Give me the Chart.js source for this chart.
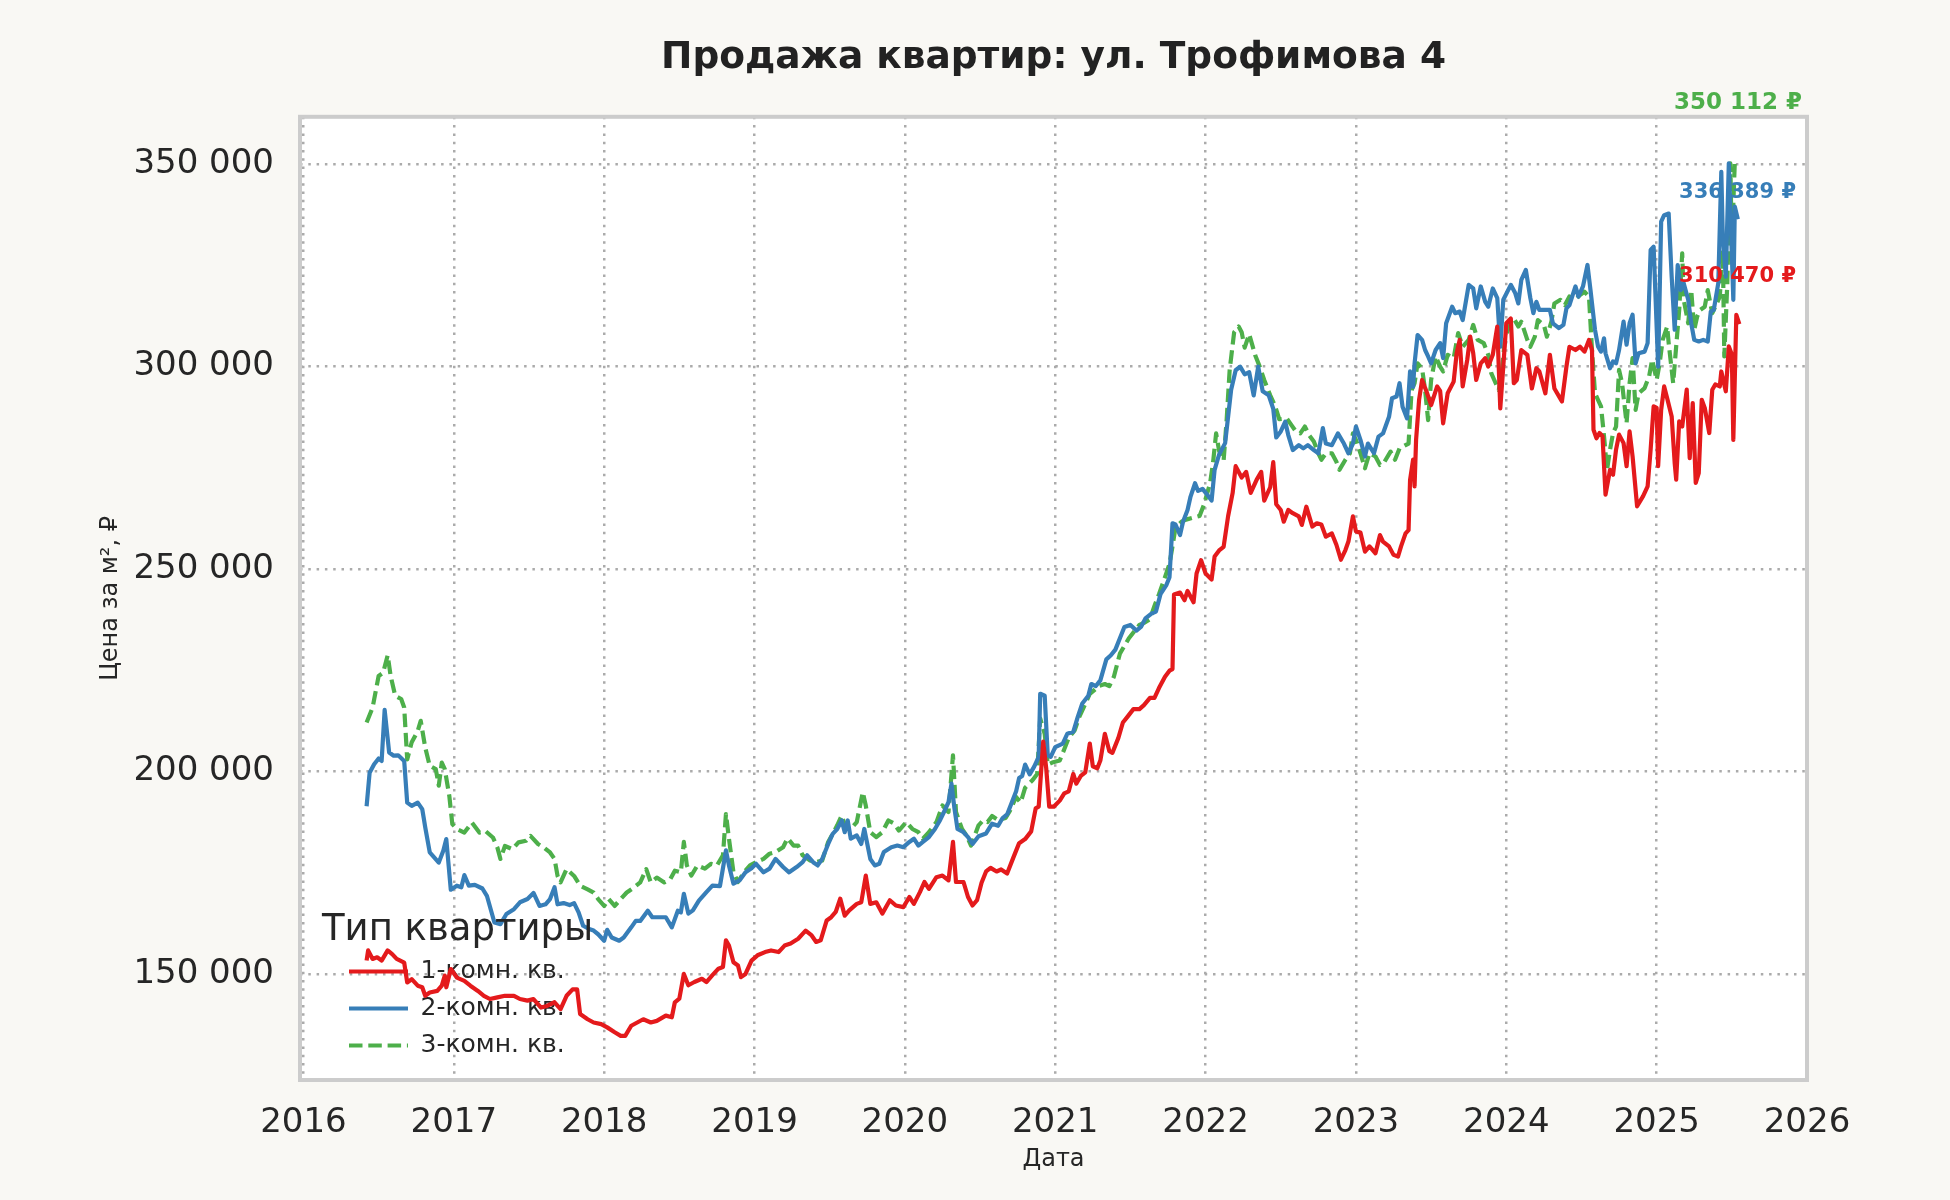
<!DOCTYPE html>
<html lang="ru">
<head>
<meta charset="utf-8">
<title>Продажа квартир: ул. Трофимова 4</title>
<script src="https://cdn.jsdelivr.net/npm/chart.js"></script>
<style>
  html, body { margin: 0; padding: 0; background: #f9f8f4; }
  #pricechart { display: block; }
</style>
</head>
<body>
<canvas id="pricechart" width="1950" height="1200"></canvas>
<script>
// ==========================================
// Data (decimal year -> price per m2, RUB)
// ==========================================
const yearTicks = [2016, 2017, 2018, 2019, 2020, 2021, 2022, 2023, 2024, 2025, 2026];
const priceTicks = [150000, 200000, 250000, 300000, 350000];
const seriesNames = ['1-комн. кв.', '2-комн. кв.', '3-комн. кв.'];

const oneRoomDates = [
  2016.42, 2016.43, 2016.46, 2016.49, 2016.52, 2016.56, 2016.59, 2016.62, 2016.67, 2016.69,
  2016.72, 2016.76, 2016.79, 2016.81, 2016.84, 2016.89, 2016.92, 2016.94, 2016.95, 2016.98,
  2017.02, 2017.07, 2017.11, 2017.16, 2017.20, 2017.24, 2017.29, 2017.34, 2017.40, 2017.44,
  2017.49, 2017.53, 2017.58, 2017.62, 2017.67, 2017.71, 2017.75, 2017.79, 2017.82, 2017.84,
  2017.89, 2017.93, 2017.98, 2018.02, 2018.07, 2018.11, 2018.14, 2018.18, 2018.22, 2018.26,
  2018.31, 2018.35, 2018.41, 2018.45, 2018.47, 2018.50, 2018.53, 2018.56, 2018.60, 2018.65,
  2018.68, 2018.72, 2018.76, 2018.79, 2018.81, 2018.83, 2018.86, 2018.89, 2018.91, 2018.94,
  2018.98, 2019.02, 2019.07, 2019.11, 2019.16, 2019.20, 2019.24, 2019.29, 2019.32, 2019.34,
  2019.38, 2019.41, 2019.44, 2019.48, 2019.51, 2019.54, 2019.57, 2019.60, 2019.63, 2019.68,
  2019.71, 2019.74, 2019.77, 2019.81, 2019.85, 2019.90, 2019.94, 2019.99, 2020.03, 2020.06,
  2020.10, 2020.13, 2020.16, 2020.21, 2020.25, 2020.29, 2020.32, 2020.34, 2020.39, 2020.42,
  2020.45, 2020.48, 2020.51, 2020.54, 2020.57, 2020.61, 2020.64, 2020.68, 2020.72, 2020.76,
  2020.80, 2020.84, 2020.87, 2020.89, 2020.92, 2020.94, 2020.96, 2020.99, 2021.03, 2021.06,
  2021.09, 2021.12, 2021.14, 2021.17, 2021.20, 2021.23, 2021.25, 2021.28, 2021.30, 2021.33,
  2021.36, 2021.38, 2021.42, 2021.45, 2021.48, 2021.52, 2021.56, 2021.59, 2021.63, 2021.66,
  2021.69, 2021.73, 2021.76, 2021.78, 2021.79, 2021.83, 2021.86, 2021.88, 2021.92, 2021.94,
  2021.97, 2022.00, 2022.04, 2022.06, 2022.09, 2022.12, 2022.15, 2022.18, 2022.20, 2022.24,
  2022.27, 2022.30, 2022.34, 2022.37, 2022.39, 2022.43, 2022.45, 2022.47, 2022.50, 2022.52,
  2022.55, 2022.58, 2022.62, 2022.64, 2022.67, 2022.71, 2022.74, 2022.77, 2022.80, 2022.84,
  2022.87, 2022.90, 2022.93, 2022.95, 2022.98, 2023.00, 2023.03, 2023.06, 2023.09, 2023.13,
  2023.16, 2023.18, 2023.22, 2023.25, 2023.28, 2023.30, 2023.33, 2023.35, 2023.36, 2023.38,
  2023.39, 2023.40, 2023.42, 2023.44, 2023.47, 2023.50, 2023.54, 2023.56, 2023.58, 2023.61,
  2023.65, 2023.67, 2023.69, 2023.71, 2023.74, 2023.76, 2023.78, 2023.80, 2023.83, 2023.86,
  2023.88, 2023.91, 2023.94, 2023.96, 2023.98, 2024.00, 2024.03, 2024.05, 2024.07, 2024.10,
  2024.14, 2024.17, 2024.20, 2024.22, 2024.26, 2024.29, 2024.32, 2024.37, 2024.40, 2024.42,
  2024.46, 2024.49, 2024.52, 2024.55, 2024.57, 2024.58, 2024.60, 2024.62, 2024.64, 2024.66,
  2024.69, 2024.71, 2024.73, 2024.75, 2024.78, 2024.80, 2024.82, 2024.84, 2024.87, 2024.91,
  2024.94, 2024.96, 2024.98, 2025.00, 2025.01, 2025.03, 2025.05, 2025.07, 2025.10, 2025.12,
  2025.13, 2025.15, 2025.17, 2025.20, 2025.22, 2025.24, 2025.26, 2025.28, 2025.30, 2025.32,
  2025.35, 2025.37, 2025.39, 2025.42, 2025.43, 2025.46, 2025.48, 2025.50, 2025.51, 2025.53, 2025.55
];
const oneRoomPrices = [
  153300, 155800, 153700, 154100, 153300, 155800, 154900, 153700, 152800, 147900,
  148700, 147100, 146700, 144600, 145400, 145800, 147100, 149600, 146700, 151200,
  149100, 148300, 147100, 145800, 144600, 143800, 144200, 144600, 144600, 143800,
  143400, 143800, 141700, 142100, 143000, 141300, 144600, 146200, 146200, 140100,
  138800, 138000, 137600, 136800, 135600, 134700, 134700, 137200, 138000, 138800,
  138000, 138400, 139700, 139300, 143000, 143900, 150000, 147200, 148000, 148800,
  148000, 149700, 151300, 151700, 158300, 157000, 152900, 152100, 149200, 150000,
  153300, 154600, 155400, 155800, 155400, 157000, 157500, 158700, 159900, 160700,
  159500, 157900, 158300, 163200, 164000, 165300, 168600, 164400, 165700, 167300,
  167700, 174300, 167300, 167700, 164900, 168200, 166900, 166500, 169000, 167300,
  170200, 172700, 171000, 173900, 174300, 173100, 182600, 172700, 172700, 169000,
  166900, 168200, 172500, 175300, 176200, 175300, 175800, 174800, 178600, 182300,
  183300, 185200, 190900, 191300, 207400, 200800, 191300, 191300, 192800, 194600,
  195100, 199400, 197000, 198900, 199800, 206900, 201300, 200800, 202700, 209300,
  205000, 204600, 208300, 212100, 213500, 215400, 215400, 216400, 218200, 218200,
  220600, 223400, 224900, 225300, 243700, 244200, 242300, 244600, 241800, 248900,
  252200, 248900, 247400, 253100, 254600, 255500, 263100, 268800, 275400, 272600,
  274000, 268800, 272100, 274000, 266900, 270200, 276400, 266000, 264600, 261700,
  264600, 263800, 263000, 260900, 265400, 260500, 261300, 261000, 258000, 258800,
  256000, 252300, 254700, 256800, 263000, 259300, 259000, 254300, 255600, 253900,
  258400, 256800, 255600, 253500, 253100, 255600, 258800, 259600, 272000, 277000,
  270400, 281900, 291800, 296700, 293800, 290500, 295100, 294000, 286000, 293400,
  296300, 303300, 306600, 295100, 301600, 307400, 303300, 296700, 300800, 302100,
  300000, 302900, 309900, 289700, 300000, 310700, 311900, 295900, 296700, 304100,
  302900, 294600, 299600, 298800, 293400, 302900, 294600, 291400, 300000, 304900,
  304100, 304900, 303700, 306600, 304100, 284400, 282300, 283600, 282800, 268400,
  274500, 273300, 279500, 283200, 281100, 275400, 284000, 277800, 265500, 268000,
  270400, 279500, 290200, 289800, 275400, 289300, 295100, 292200, 287700, 276200,
  272100, 286500, 285200, 294300, 277400, 291000, 271300, 273700, 291800, 289800,
  283600, 294300, 295600, 295100, 298800, 293900, 305000, 303000, 281900, 312800, 310470
];

const twoRoomDates = [
  2016.42, 2016.44, 2016.47, 2016.50, 2016.52, 2016.54, 2016.57, 2016.60, 2016.63, 2016.67,
  2016.69, 2016.72, 2016.76, 2016.79, 2016.80, 2016.81, 2016.84, 2016.90, 2016.93, 2016.95,
  2016.98, 2017.02, 2017.05, 2017.07, 2017.10, 2017.14, 2017.19, 2017.22, 2017.27, 2017.31,
  2017.35, 2017.40, 2017.44, 2017.49, 2017.53, 2017.57, 2017.61, 2017.64, 2017.67, 2017.69,
  2017.73, 2017.77, 2017.80, 2017.83, 2017.86, 2017.90, 2017.93, 2017.96, 2018.00, 2018.02,
  2018.05, 2018.10, 2018.13, 2018.18, 2018.21, 2018.24, 2018.29, 2018.32, 2018.36, 2018.41,
  2018.45, 2018.49, 2018.51, 2018.53, 2018.56, 2018.59, 2018.63, 2018.68, 2018.72, 2018.77,
  2018.81, 2018.83, 2018.86, 2018.90, 2018.94, 2018.98, 2019.01, 2019.06, 2019.10, 2019.14,
  2019.19, 2019.23, 2019.28, 2019.32, 2019.35, 2019.39, 2019.42, 2019.45, 2019.49, 2019.52,
  2019.55, 2019.58, 2019.60, 2019.62, 2019.64, 2019.68, 2019.71, 2019.73, 2019.77, 2019.80,
  2019.83, 2019.86, 2019.91, 2019.95, 2019.99, 2020.03, 2020.06, 2020.09, 2020.12, 2020.16,
  2020.20, 2020.23, 2020.26, 2020.29, 2020.31, 2020.33, 2020.35, 2020.39, 2020.42, 2020.45,
  2020.49, 2020.54, 2020.58, 2020.62, 2020.65, 2020.68, 2020.72, 2020.74, 2020.76, 2020.78,
  2020.80, 2020.83, 2020.86, 2020.89, 2020.90, 2020.93, 2020.95, 2020.97, 2021.00, 2021.05,
  2021.08, 2021.12, 2021.15, 2021.18, 2021.22, 2021.24, 2021.27, 2021.30, 2021.34, 2021.37,
  2021.40, 2021.43, 2021.46, 2021.50, 2021.54, 2021.57, 2021.60, 2021.64, 2021.67, 2021.70,
  2021.74, 2021.76, 2021.78, 2021.80, 2021.83, 2021.85, 2021.88, 2021.90, 2021.93, 2021.95,
  2021.98, 2022.02, 2022.04, 2022.06, 2022.09, 2022.13, 2022.15, 2022.17, 2022.20, 2022.23,
  2022.26, 2022.29, 2022.32, 2022.35, 2022.38, 2022.42, 2022.45, 2022.47, 2022.50, 2022.53,
  2022.55, 2022.58, 2022.62, 2022.65, 2022.68, 2022.72, 2022.75, 2022.78, 2022.80, 2022.84,
  2022.88, 2022.92, 2022.95, 2022.98, 2023.00, 2023.03, 2023.06, 2023.08, 2023.12, 2023.15,
  2023.18, 2023.22, 2023.24, 2023.27, 2023.29, 2023.31, 2023.34, 2023.36, 2023.38, 2023.39,
  2023.41, 2023.44, 2023.46, 2023.48, 2023.50, 2023.53, 2023.56, 2023.58, 2023.60, 2023.64,
  2023.66, 2023.69, 2023.71, 2023.75, 2023.78, 2023.80, 2023.83, 2023.86, 2023.88, 2023.91,
  2023.94, 2023.96, 2023.98, 2024.03, 2024.06, 2024.08, 2024.10, 2024.13, 2024.16, 2024.18,
  2024.20, 2024.22, 2024.26, 2024.29, 2024.31, 2024.35, 2024.38, 2024.40, 2024.42, 2024.46,
  2024.48, 2024.51, 2024.54, 2024.56, 2024.59, 2024.61, 2024.63, 2024.65, 2024.66, 2024.69,
  2024.71, 2024.73, 2024.75, 2024.78, 2024.80, 2024.82, 2024.84, 2024.86, 2024.88, 2024.92,
  2024.94, 2024.96, 2024.98, 2025.01, 2025.03, 2025.05, 2025.08, 2025.10, 2025.12, 2025.14,
  2025.16, 2025.18, 2025.21, 2025.23, 2025.25, 2025.28, 2025.31, 2025.34, 2025.36, 2025.38,
  2025.41, 2025.43, 2025.44, 2025.46, 2025.48, 2025.51, 2025.52, 2025.54
];
const twoRoomPrices = [
  191400, 199700, 201800, 203200, 202600, 215200, 204700, 203900, 204000, 202600,
  192300, 191500, 192300, 190700, 188500, 186200, 180000, 177500, 180400, 183300,
  170800, 171800, 171400, 174400, 171800, 172000, 171100, 169300, 162700, 162300,
  164800, 166000, 167700, 168500, 170000, 166800, 167200, 168500, 171400, 167200,
  167500, 167000, 167500, 165200, 161900, 161100, 160700, 159800, 158200, 160900,
  159000, 158200, 159000, 161500, 163100, 163100, 165600, 164000, 164000, 164000,
  161500, 165600, 165200, 169800, 164900, 165700, 168100, 170200, 171800, 171700,
  180500, 176800, 172300, 173100, 175100, 176100, 177200, 175100, 176000, 178400,
  176400, 175100, 176400, 177600, 179300, 177600, 176800, 178400, 182100, 184600,
  185800, 187900, 185000, 187900, 183400, 184200, 182100, 185800, 178400, 176800,
  177200, 180100, 181300, 181700, 181300, 182600, 183400, 181700, 182600, 183800,
  185800, 187700, 190000, 192400, 197000, 190800, 185800, 185000, 183800, 182100,
  184000, 184700, 187100, 186600, 188500, 189400, 193200, 195100, 198400, 198900,
  201700, 199300, 201200, 203600, 219200, 218700, 204100, 203600, 206000, 206900,
  209300, 209800, 213500, 216800, 218700, 221600, 221100, 222500, 227700, 228700,
  230100, 232900, 235700, 236200, 234800, 235700, 237800, 239000, 239500, 243800,
  246100, 248000, 261300, 261000, 258400, 261700, 264600, 267900, 271200, 269300,
  269800, 267900, 266900, 274500, 278300, 281100, 287700, 294300, 299100, 300000,
  298100, 298600, 292900, 300000, 293900, 292900, 289600, 282500, 284000, 286400,
  283100, 279400, 280600, 279800, 280600, 279400, 278600, 284800, 281000, 280600,
  283500, 281000, 278600, 281000, 285200, 281900, 277800, 281000, 278600, 282700,
  283500, 287600, 292200, 292600, 295900, 290100, 287200, 298800, 295000, 300800,
  307800, 306600, 304100, 302500, 300800, 304100, 305800, 302100, 310700, 314800,
  313200, 313600, 311500, 320200, 319300, 314400, 319800, 316000, 314800, 319300,
  316900, 304900, 316500, 320200, 318100, 315600, 321400, 323900, 316900, 313200,
  316000, 314000, 314000, 314000, 310700, 309500, 310300, 314400, 315200, 319800,
  317300, 319800, 325100, 318900, 309100, 305000, 303700, 307000, 303300, 299600,
  301300, 300800, 304100, 311100, 305400, 310700, 312800, 300800, 303300, 303700,
  305800, 328800, 329600, 300000, 335800, 337400, 337800, 322200, 309100, 325100,
  318900, 320600, 316500, 310700, 306600, 306200, 306600, 306200, 313600, 314000,
  320600, 348100, 332100, 322200, 350200, 316500, 339500, 336389
];

const threeRoomDates = [
  2016.42, 2016.46, 2016.50, 2016.53, 2016.56, 2016.58, 2016.61, 2016.65, 2016.67, 2016.69,
  2016.72, 2016.76, 2016.78, 2016.81, 2016.84, 2016.88, 2016.90, 2016.92, 2016.94, 2016.97,
  2016.99, 2017.02, 2017.07, 2017.12, 2017.17, 2017.21, 2017.26, 2017.29, 2017.31, 2017.34,
  2017.39, 2017.43, 2017.48, 2017.51, 2017.56, 2017.60, 2017.64, 2017.67, 2017.69, 2017.71,
  2017.75, 2017.80, 2017.84, 2017.89, 2017.93, 2017.96, 2018.00, 2018.03, 2018.07, 2018.11,
  2018.15, 2018.20, 2018.24, 2018.28, 2018.31, 2018.35, 2018.40, 2018.44, 2018.47, 2018.51,
  2018.53, 2018.55, 2018.58, 2018.62, 2018.67, 2018.71, 2018.75, 2018.79, 2018.81, 2018.83,
  2018.86, 2018.89, 2018.93, 2018.97, 2019.01, 2019.06, 2019.10, 2019.14, 2019.19, 2019.22,
  2019.26, 2019.29, 2019.32, 2019.37, 2019.41, 2019.45, 2019.49, 2019.52, 2019.55, 2019.58,
  2019.61, 2019.64, 2019.68, 2019.72, 2019.74, 2019.77, 2019.81, 2019.85, 2019.89, 2019.93,
  2019.96, 2020.01, 2020.05, 2020.09, 2020.12, 2020.16, 2020.21, 2020.25, 2020.29, 2020.32,
  2020.34, 2020.38, 2020.41, 2020.44, 2020.49, 2020.52, 2020.55, 2020.58, 2020.62, 2020.67,
  2020.70, 2020.74, 2020.77, 2020.80, 2020.85, 2020.88, 2020.90, 2020.93, 2020.95, 2020.98,
  2021.03, 2021.06, 2021.09, 2021.13, 2021.16, 2021.19, 2021.23, 2021.26, 2021.29, 2021.33,
  2021.36, 2021.39, 2021.43, 2021.46, 2021.49, 2021.53, 2021.56, 2021.59, 2021.63, 2021.66,
  2021.69, 2021.73, 2021.76, 2021.78, 2021.80, 2021.84, 2021.87, 2021.92, 2021.96, 2021.99,
  2022.03, 2022.05, 2022.07, 2022.09, 2022.12, 2022.14, 2022.16, 2022.19, 2022.22, 2022.24,
  2022.26, 2022.29, 2022.33, 2022.36, 2022.39, 2022.43, 2022.46, 2022.49, 2022.54, 2022.57,
  2022.60, 2022.63, 2022.66, 2022.69, 2022.72, 2022.75, 2022.77, 2022.80, 2022.84, 2022.87,
  2022.89, 2022.93, 2022.96, 2022.98, 2023.00, 2023.03, 2023.06, 2023.09, 2023.13, 2023.16,
  2023.19, 2023.23, 2023.26, 2023.29, 2023.33, 2023.35, 2023.37, 2023.39, 2023.41, 2023.44,
  2023.46, 2023.48, 2023.50, 2023.53, 2023.56, 2023.58, 2023.61, 2023.65, 2023.68, 2023.71,
  2023.75, 2023.78, 2023.81, 2023.85, 2023.88, 2023.90, 2023.92, 2023.95, 2023.97, 2023.99,
  2024.03, 2024.05, 2024.08, 2024.10, 2024.14, 2024.16, 2024.19, 2024.21, 2024.25, 2024.27,
  2024.30, 2024.32, 2024.36, 2024.39, 2024.42, 2024.46, 2024.49, 2024.52, 2024.55, 2024.57,
  2024.59, 2024.61, 2024.63, 2024.65, 2024.67, 2024.69, 2024.71, 2024.73, 2024.75, 2024.77,
  2024.80, 2024.82, 2024.84, 2024.86, 2024.88, 2024.92, 2024.95, 2024.97, 2025.00, 2025.02,
  2025.04, 2025.07, 2025.08, 2025.11, 2025.13, 2025.15, 2025.17, 2025.18, 2025.21, 2025.23,
  2025.25, 2025.27, 2025.29, 2025.32, 2025.34, 2025.37, 2025.39, 2025.42, 2025.44, 2025.45,
  2025.47, 2025.49, 2025.50, 2025.52, 2025.53
];
const threeRoomPrices = [
  212100, 215800, 223600, 224400, 228700, 223600, 218700, 217900, 215800, 203000,
  207200, 210000, 212500, 205900, 201400, 200600, 196500, 202200, 200600, 194000,
  187000, 185800, 184900, 187400, 184900, 185300, 183700, 181200, 178400, 181600,
  180800, 182500, 182900, 184100, 182100, 181200, 180000, 178400, 174200, 172600,
  175900, 174200, 171800, 170900, 170100, 168500, 166800, 168500, 166800, 168500,
  170100, 171400, 172600, 175900, 172600, 173800, 172600, 173400, 175500, 175100,
  182600, 176800, 174300, 176800, 176000, 177200, 176800, 179300, 189500, 183400,
  175100, 172700, 175100, 176800, 177600, 178400, 179700, 180100, 181300, 183500,
  181700, 181700, 179300, 178000, 177600, 178000, 182600, 184600, 186700, 189100,
  185800, 185800, 187500, 194900, 191600, 185000, 183800, 185000, 187900, 187100,
  185400, 187500, 185800, 185000, 183400, 185000, 187500, 191600, 190000, 204000,
  190000, 185800, 184200, 181700, 186700, 187900, 187500, 189000, 188000, 188500,
  190400, 193700, 192300, 196000, 197900, 199400, 213100, 209300, 201700, 202200,
  202700, 205500, 208300, 210200, 213500, 215900, 219200, 220100, 221100, 221600,
  221100, 223400, 229100, 231000, 232900, 234800, 236200, 236700, 237600, 240900,
  243800, 248000, 251300, 255600, 260300, 261700, 262200, 262700, 263100, 266000,
  271200, 276400, 283500, 279200, 276800, 286800, 299100, 308500, 309900, 308500,
  304700, 308000, 302800, 300000, 296700, 292900, 290500, 287000, 287200, 285600,
  284000, 283500, 285200, 283000, 281500, 278600, 277000, 278600, 278600, 276500,
  274500, 277000, 278600, 283500, 281900, 278600, 274900, 278600, 277800, 275700,
  276500, 279000, 277000, 279800, 280600, 281000, 294200, 295900, 300800, 299500,
  294200, 286800, 296700, 302500, 300000, 298800, 302900, 302100, 308300, 304900,
  306600, 310300, 306600, 305800, 302900, 298400, 296700, 294200, 298400, 306600,
  311500, 311900, 309900, 311100, 306600, 304900, 307400, 311500, 310300, 307400,
  311100, 315600, 316500, 315200, 317300, 316500, 317700, 318500, 317300, 304100,
  293400, 291800, 290200, 282800, 274500, 279500, 283600, 285200, 299200, 295900,
  286000, 295900, 302100, 289300, 293400, 294700, 297600, 301700, 296700, 300800,
  306600, 309900, 305800, 295900, 305000, 314000, 328000, 316500, 310700, 318900,
  309100, 312400, 314000, 314800, 318900, 313200, 314800, 317300, 328800, 302500,
  320600, 350200, 330000, 350600, 350112
];

// ==========================================
// Helpers
// ==========================================
const toPoints = (dates, prices) => dates.map((d, i) => ({ x: d, y: prices[i] }));
const fmtPrice = (v) => String(Math.round(v)).replace(/\B(?=(\d{3})+(?!\d))/g, ' ');

const textColor = '#262626';
const gridColor = '#ababab';
Chart.defaults.font.family = "'DejaVu Sans', 'Noto Sans', sans-serif";
Chart.defaults.color = textColor;

// background, frame, legend title and last-value labels
const decorPlugin = {
    id: 'decor',
    beforeDraw(chart) {
        const { ctx, chartArea: a, width, height } = chart;
        ctx.save();
        ctx.fillStyle = '#f9f8f4';
        ctx.fillRect(0, 0, width, height);
        ctx.fillStyle = '#ffffff';
        ctx.fillRect(a.left, a.top, a.right - a.left, a.bottom - a.top);
        ctx.restore();
    },
    afterLayout(chart) {
        // legend sits in the lower left corner of the plot
        const lg = chart.legend;
        const a = chart.chartArea;
        if (!lg) return;
        lg.left = a.left + 37;
        lg.right = lg.left + 420;
        lg.bottom = Math.round(a.bottom - 10);
        lg.top = lg.bottom - 300;
    },
    afterDraw(chart) {
        const { ctx, chartArea: a } = chart;
        ctx.save();
        // frame
        ctx.strokeStyle = '#cccccc';
        ctx.lineWidth = 4;
        ctx.strokeRect(a.left, a.top, a.right - a.left, a.bottom - a.top);

        // legend title
        ctx.fillStyle = textColor;
        ctx.font = "37px 'DejaVu Sans'";
        ctx.textAlign = 'left';
        ctx.textBaseline = 'middle';
        ctx.fillText('Тип квартиры', a.left + 22, a.bottom - 150);

        // last value labels
        const offsets = [
            { dx: -11, dy: -48, size: 21 },
            { dx: -11, dy: -27, size: 21 },
            { dx: -5, dy: -61, size: 23 }
        ];
        ctx.textAlign = 'right';
        chart.data.datasets.forEach((ds, i) => {
            const meta = chart.getDatasetMeta(i);
            const last = meta.data[meta.data.length - 1];
            const value = ds.data[ds.data.length - 1].y;
            const o = offsets[i];
            ctx.font = "bold " + o.size + "px 'DejaVu Sans'";
            ctx.fillStyle = ds.borderColor;
            ctx.fillText(fmtPrice(value) + ' ₽', a.right + o.dx, last.y + o.dy);
        });
        ctx.restore();
    }
};

// ==========================================
// Chart
// ==========================================
const priceCtx = document.getElementById('pricechart');

new Chart(priceCtx, {
    type: 'line',
    data: {
        datasets: [{
            label: seriesNames[0],
            data: toPoints(oneRoomDates, oneRoomPrices),
            borderColor: '#e41a1c',
            borderWidth: 4.2
        }, {
            label: seriesNames[1],
            data: toPoints(twoRoomDates, twoRoomPrices),
            borderColor: '#377eb8',
            borderWidth: 4.2
        }, {
            label: seriesNames[2],
            data: toPoints(threeRoomDates, threeRoomPrices),
            borderColor: '#4daf4a',
            borderWidth: 4.2,
            borderDash: [13.5, 5.8]
        }]
    },
    options: {
        responsive: false,
        maintainAspectRatio: false,
        animation: false,
        devicePixelRatio: 1,
        layout: { padding: { left: 0, right: 143, top: 0, bottom: 0 } },
        elements: {
            point: { radius: 0, hoverRadius: 0 },
            line: { tension: 0, borderJoinStyle: 'round', borderCapStyle: 'butt', fill: false }
        },
        plugins: {
            title: {
                display: true,
                text: 'Продажа квартир: ул. Трофимова 4',
                fullSize: false,
                color: '#222222',
                font: { size: 37.5, weight: 'bold' },
                padding: { top: 35.8, bottom: 36 }
            },
            legend: {
                position: 'chartArea',
                align: 'end',
                labels: {
                    usePointStyle: true,
                    pointStyle: 'line',
                    pointStyleWidth: 59,
                    padding: 12,
                    color: textColor,
                    font: { size: 25 },
                    generateLabels: (chart) => chart.data.datasets.map((ds, i) => ({
                        text: ds.label,
                        fillStyle: ds.borderColor,
                        strokeStyle: ds.borderColor,
                        lineWidth: ds.borderWidth,
                        lineDash: ds.borderDash || [],
                        lineCap: 'butt',
                        pointStyle: 'line',
                        fontColor: textColor,
                        hidden: false,
                        datasetIndex: i
                    }))
                }
            },
            tooltip: { enabled: false }
        },
        scales: {
            x: {
                type: 'linear',
                min: 2015.977,
                max: 2026.0,
                afterBuildTicks: (axis) => { axis.ticks = yearTicks.map(v => ({ value: v })); },
                afterFit: (axis) => { axis.height = 120; },
                ticks: {
                    autoSkip: false,
                    maxRotation: 0,
                    padding: 23,
                    color: textColor,
                    font: { size: 34 },
                    callback: (v) => String(v)
                },
                grid: { color: gridColor, lineWidth: 2.5, drawTicks: false },
                border: { display: false, dash: [2.5, 5.8] },
                title: {
                    display: true,
                    text: 'Дата',
                    color: textColor,
                    font: { size: 24 },
                    padding: { top: 0, bottom: 25.5 }
                }
            },
            y: {
                type: 'linear',
                min: 123800,
                max: 361700,
                afterBuildTicks: (axis) => { axis.ticks = priceTicks.map(v => ({ value: v })); },
                afterFit: (axis) => { axis.width = 300; },
                ticks: {
                    padding: 26,
                    color: textColor,
                    font: { size: 34 },
                    callback: (v) => fmtPrice(v)
                },
                grid: { color: gridColor, lineWidth: 2.5, drawTicks: false },
                border: { display: false, dash: [2.5, 5.8] },
                title: {
                    display: true,
                    text: 'Цена за м², ₽',
                    color: textColor,
                    font: { size: 24 },
                    padding: { top: 96, bottom: 0 }
                }
            }
        }
    },
    plugins: [decorPlugin]
});
</script>
</body>
</html>
